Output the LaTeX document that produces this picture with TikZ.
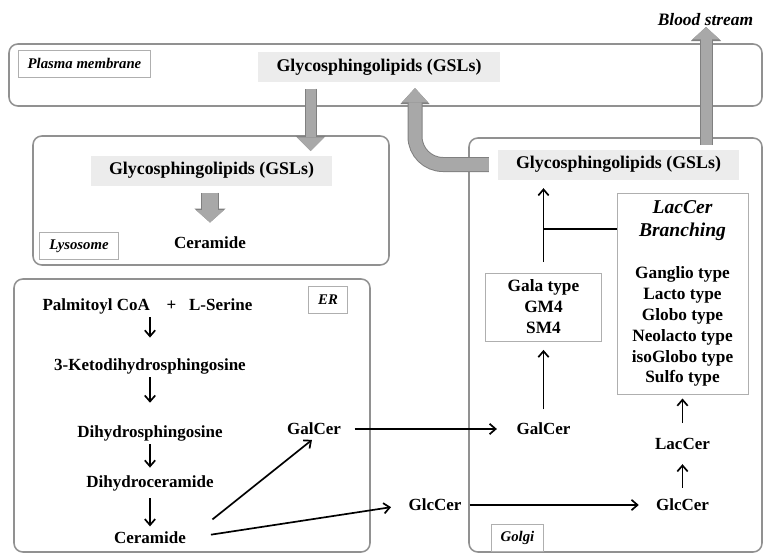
\documentclass[tikz,border=0pt]{standalone}
\usepackage{fontspec}
\setmainfont{Liberation Serif}
\usepackage{tikz}
\usetikzlibrary{arrows.meta, positioning, calc}
\definecolor{cellline}{RGB}{145,145,145}
\definecolor{tagline}{RGB}{175,175,175}
\definecolor{gslfill}{RGB}{236,236,236}
\definecolor{trafficgray}{RGB}{168,168,168}
\definecolor{trafficedge}{RGB}{128,128,128}
\newcommand{\branchfont}{\fontsize{13.9}{16.4}\selectfont\itshape}
\tikzset{%
	compartment/.style={draw=cellline, line width=1.1pt, rounded corners=2.2mm},
	tag/.style={draw=tagline, line width=0.7pt, inner xsep=2.4mm, minimum height=6.75mm,%
		font=\fontsize{10.5}{12}\selectfont\bfseries\itshape},
	gsl/.style={fill=gslfill, inner xsep=4.6mm, minimum height=7.5mm,%
		font=\fontsize{12.7}{15}\selectfont\bfseries},
	mol/.style={inner sep=0.75mm, font=\fontsize{12.1}{14.9}\selectfont\bfseries},
	typebox/.style={draw=tagline, line width=0.7pt, align=center, inner sep=0mm,%
		font=\fontsize{12.3}{14.9}\selectfont\bfseries},
	flow/.style={-{Straight Barb[length=1.5mm, width=2.6mm]}, line width=1.2pt},
	link/.style={line width=1.2pt},
	traffic/.style args={#1/#2/#3}{draw=trafficgray, line width=#1,%
		-{Triangle[length=#2, width=#3, line width=0pt]},%
		preaction={draw=trafficedge, line width=#1+0.5mm,%
			-{Triangle[length=#2+0.4mm, width=#3+0.8mm, line width=0pt]}}}
}

\begin{document}
\begin{tikzpicture}[x=0.25mm, y=-0.25mm]
	\useasboundingbox (0,0) rectangle (764,554);
	\draw[compartment] (9,44) rectangle (762,106);
	\draw[compartment] (33,136) rectangle (389,265);
	\draw[compartment] (14,279) rectangle (370,552);
	\draw[compartment] (469,138) rectangle (762,552);

	\node[tag] (pmtag) at (84.5,63.5) {Plasma membrane};
	\node[tag] (lystag) at (79,246) {Lysosome};
	\node[tag] (ertag) at (328,299.5) {ER};
	\node[tag] (golgitag) at (517.5,538) {Golgi};

	\node[gsl] (gsl1) at (379,67) {Glycosphingolipids (GSLs)};
	\node[gsl] (gsl2) at (211.5,170.5) {Glycosphingolipids (GSLs)};
	\node[gsl] (gsl3) at (618.5,164.5) {Glycosphingolipids (GSLs)};
	\node[mol] (lyscer) at (210,243) {Ceramide};

	\node[mol] (palm) at (147.5,306) {Palmitoyl CoA\hspace{4.2mm}+\hspace{3.2mm}L-Serine};
	\node[mol] (keto) at (150,366) {3-Ketodihydrosphingosine};
	\node[mol] (dhsph) at (150,433) {Dihydrosphingosine};
	\node[mol] (dhcer) at (150,483) {Dihydroceramide};
	\node[mol] (cer) at (150,538) {Ceramide};
	\node[mol] (galer) at (314,429) {GalCer};
	\node[mol] (glcer) at (435,505) {GlcCer};

	\node[mol] (galgolgi) at (543.5,429) {GalCer};
	\node[mol] (glcgolgi) at (682.5,505) {GlcCer};
	\node[mol] (lac) at (682.5,444) {LacCer};
	\node[typebox, minimum width=29mm, minimum height=17mm] (gala) at (543.5,307)
		{Gala type\\GM4\\SM4};
	\node[typebox, minimum width=32.75mm, minimum height=50.25mm] (branch) at (682.5,293.5)
		{{\branchfont LacCer}\\[1.5pt]{\branchfont Branching}\\[14.9pt]Ganglio type\\Lacto type\\%
		Globo type\\Neolacto type\\isoGlobo type\\Sulfo type};
	\coordinate (branchjoin) at ($(branch.north west)!0.18!(branch.south west)$);

	\draw[flow, shorten >=4.35mm] (palm.south -| keto.north) -- (keto.north);
	\draw[flow, shorten >=4.8mm] (keto) -- (dhsph);
	\draw[flow, shorten >=1.1mm] (dhsph) -- (dhcer);
	\draw[flow, shorten <=1.1mm, shorten >=0.6mm] (dhcer) -- (cer);
	\draw[flow, shorten <=7.45mm, shorten >=0.65mm] (cer.east) -- (galer.south);
	\draw[flow, shorten <=5.5mm, shorten >=3.6mm] (cer.east) -- (glcer.west);
	\draw[flow, shorten <=2.6mm, shorten >=4.1mm] (galer) -- (galgolgi);
	\draw[flow, shorten <=1.25mm, shorten >=3.5mm] (glcer) -- (glcgolgi);
	\draw[flow, shorten <=2.6mm, shorten >=2.1mm] (galgolgi) -- (gala);
	\draw[flow, shorten <=2.6mm, shorten >=2.1mm] (gala) -- (gala |- gsl3.south);
	\draw[link] (branchjoin) -- (branchjoin -| gala);
	\draw[flow, shorten <=3mm, shorten >=1mm] (lac) -- (branch);
	\draw[flow, shorten <=2mm, shorten >=2.8mm] (glcgolgi) -- (lac);

	\coordinate (lysdrop) at (310.5,151);
	\coordinate (curvetip) at (415,88);
	\coordinate (bloodfoot) at (706,145);
	\coordinate (bloodtip) at (706,27);
	\draw[traffic=2.5mm/3.4mm/6.8mm, shorten <=1.6mm] (gsl1.south -| lysdrop) -- (lysdrop);
	\draw[traffic=4mm/3.1mm/7mm, shorten <=1.7mm, shorten >=2.8mm] (gsl2.south -| lyscer) -- (lyscer.north);
	\draw[traffic=3.25mm/3.6mm/6.5mm, rounded corners=7mm, shorten <=2.1mm] (gsl3.west) -| (curvetip);
	\draw[traffic=2.75mm/3.1mm/6.8mm] (bloodfoot) -- (bloodtip);
	\node[font=\fontsize{12.4}{14}\selectfont\bfseries\itshape] (blood) at (705.5,20) {Blood stream};
\end{tikzpicture}
\end{document}
